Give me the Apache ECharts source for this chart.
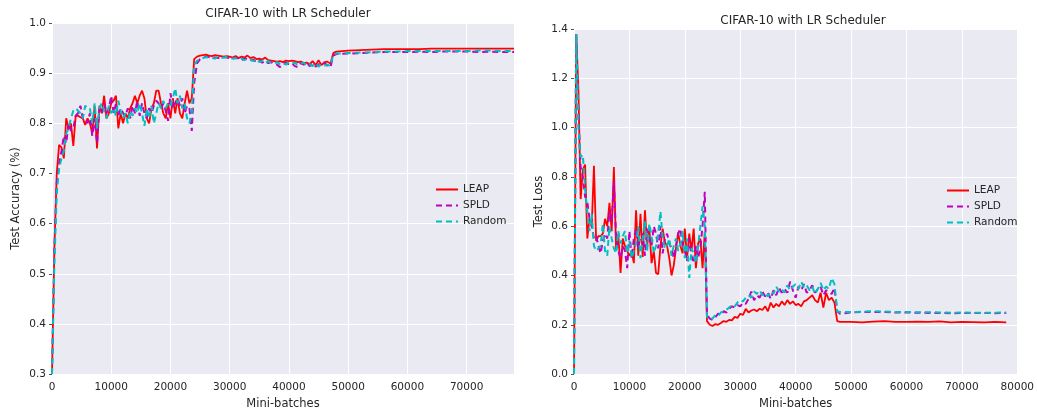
<!DOCTYPE html>
<html>
<head>
<meta charset="utf-8">
<script src="https://cdn.jsdelivr.net/npm/echarts@6/dist/echarts.min.js"></script>
<style>html,body{margin:0;padding:0;background:#fff}#c{width:1037px;height:415px}</style>
</head>
<body>
<div id="c"></div>
<script>
// Mini-batch positions (shared by every series)
const batches = [
  0,400,800,1200,1600,2000,2400,2800,3200,3600,4000,4400,4800,5200,5600,6000,6400,6800,7200,7600,
  8000,8400,8800,9200,9600,10000,10400,10800,11200,11600,12000,12400,12800,13200,13600,14000,14400,14800,15200,15600,
  16000,16400,16800,17200,17600,18000,18400,18800,19200,19600,20000,20400,20800,21200,21600,22000,22400,22800,23200,23600,
  24000,
  24500,25000,25500,26000,26500,27000,27500,28000,28500,29000,29500,30000,30500,31000,31500,32000,32500,33000,33500,34000,
  34500,35000,35500,36000,36500,37000,37500,38000,38500,39000,39500,40000,40500,41000,41500,42000,42500,43000,43500,44000,
  44500,45000,45500,46000,46500,47000,
  47500,48000,50000,52000,54000,56000,58000,60000,62000,64000,66000,68000,70000,72000,74000,76000,78000
];
const seriesNames = ['LEAP','SPLD','Random'];

// Test accuracy
const accLEAP = [
  0.30,0.55,0.70,0.757,0.752,0.73,0.81,0.79,0.80,0.755,
  0.815,0.815,0.812,0.81,0.797,0.81,0.80,0.78,0.835,0.75,
  0.835,0.82,0.855,0.81,0.82,0.84,0.845,0.855,0.79,0.82,
  0.80,0.82,0.81,0.83,0.84,0.855,0.84,0.855,0.865,0.85,
  0.81,0.80,0.83,0.84,0.865,0.865,0.84,0.82,0.81,0.84,
  0.81,0.85,0.82,0.85,0.82,0.81,0.84,0.865,0.84,0.85,
  0.928,
  0.933,0.935,0.936,0.937,0.935,0.934,0.936,0.935,0.934,0.933,
  0.934,0.933,0.931,0.934,0.930,0.933,0.931,0.935,0.930,0.932,
  0.928,0.929,0.927,0.931,0.926,0.925,0.924,0.923,0.924,0.922,
  0.925,0.924,0.925,0.924,0.922,0.923,0.920,0.921,0.918,0.924,
  0.916,0.926,0.916,0.922,0.923,0.919,
  0.940,0.943,0.945,0.946,0.947,0.948,0.948,0.948,0.948,0.949,0.949,0.949,0.949,0.949,0.949,0.949,0.949
];
const accSPLD = [
  0.30,0.55,0.68,0.72,0.745,0.775,0.76,0.80,0.785,0.79,
  0.815,0.82,0.835,0.81,0.81,0.80,0.82,0.775,0.81,0.76,
  0.83,0.82,0.84,0.82,0.83,0.855,0.82,0.84,0.815,0.83,
  0.82,0.815,0.83,0.81,0.835,0.82,0.845,0.815,0.84,0.82,
  0.81,0.83,0.82,0.835,0.845,0.84,0.83,0.84,0.825,0.805,
  0.86,0.83,0.84,0.85,0.835,0.85,0.82,0.835,0.83,0.785,
  0.88,
  0.920,0.928,0.931,0.933,0.932,0.930,0.931,0.930,0.931,0.932,
  0.931,0.930,0.928,0.931,0.929,0.925,0.930,0.928,0.925,0.927,
  0.922,0.926,0.921,0.924,0.920,0.922,0.918,0.917,0.912,0.919,
  0.921,0.918,0.920,0.914,0.912,0.920,0.917,0.921,0.914,0.919,
  0.913,0.918,0.916,0.920,0.915,0.912,
  0.935,0.938,0.939,0.940,0.941,0.942,0.942,0.942,0.943,0.942,0.943,0.943,0.943,0.942,0.943,0.942,0.942
];
const accRandom = [
  0.30,0.52,0.66,0.71,0.73,0.745,0.78,0.79,0.81,0.825,
  0.83,0.825,0.82,0.81,0.835,0.83,0.83,0.80,0.84,0.79,
  0.83,0.84,0.825,0.81,0.835,0.82,0.83,0.815,0.845,0.825,
  0.81,0.82,0.80,0.825,0.815,0.83,0.82,0.84,0.82,0.795,
  0.83,0.81,0.835,0.80,0.82,0.84,0.83,0.845,0.83,0.84,
  0.835,0.85,0.87,0.84,0.855,0.83,0.84,0.81,0.80,0.82,
  0.915,
  0.925,0.928,0.930,0.932,0.931,0.930,0.929,0.932,0.930,0.931,
  0.932,0.931,0.929,0.930,0.927,0.929,0.926,0.929,0.927,0.924,
  0.928,0.922,0.925,0.920,0.924,0.921,0.919,0.922,0.918,0.920,
  0.917,0.922,0.919,0.921,0.916,0.919,0.921,0.915,0.918,0.914,
  0.920,0.913,0.918,0.915,0.917,0.914,
  0.937,0.939,0.940,0.941,0.942,0.943,0.943,0.944,0.944,0.944,0.944,0.944,0.944,0.945,0.945,0.944,0.944
];

// Test loss
const lossLEAP = [
  0.00,1.38,1.15,0.71,0.83,0.85,0.55,0.63,0.60,0.845,
  0.54,0.56,0.56,0.57,0.63,0.60,0.695,0.58,0.84,0.50,
  0.57,0.41,0.55,0.52,0.50,0.48,0.50,0.45,0.665,0.48,
  0.65,0.475,0.665,0.52,0.59,0.45,0.50,0.41,0.405,0.52,
  0.59,0.535,0.52,0.47,0.40,0.44,0.51,0.575,0.52,0.49,
  0.59,0.47,0.57,0.50,0.59,0.43,0.53,0.55,0.43,0.575,
  0.215,
  0.200,0.195,0.203,0.200,0.207,0.215,0.212,0.220,0.218,0.232,
  0.228,0.245,0.240,0.265,0.250,0.258,0.262,0.255,0.265,0.260,
  0.275,0.255,0.290,0.270,0.285,0.275,0.295,0.280,0.300,0.285,
  0.295,0.280,0.285,0.275,0.295,0.300,0.310,0.320,0.300,0.290,
  0.330,0.270,0.330,0.300,0.310,0.290,
  0.215,0.212,0.212,0.210,0.213,0.215,0.212,0.212,0.213,0.212,0.214,0.210,0.212,0.211,0.210,0.212,0.210
];
const lossSPLD = [
  0.00,1.38,1.05,0.84,0.80,0.72,0.70,0.63,0.60,0.55,
  0.56,0.52,0.49,0.54,0.57,0.55,0.66,0.62,0.78,0.55,
  0.50,0.47,0.52,0.50,0.43,0.58,0.47,0.55,0.59,0.51,
  0.56,0.57,0.48,0.59,0.55,0.52,0.60,0.57,0.51,0.60,
  0.49,0.55,0.57,0.53,0.51,0.47,0.52,0.57,0.59,0.52,
  0.50,0.46,0.55,0.48,0.45,0.52,0.47,0.51,0.60,0.74,
  0.24,
  0.225,0.220,0.230,0.245,0.240,0.255,0.250,0.265,0.275,0.270,
  0.280,0.275,0.290,0.285,0.305,0.335,0.300,0.320,0.310,0.335,
  0.315,0.330,0.305,0.340,0.320,0.350,0.330,0.345,0.330,0.375,
  0.340,0.310,0.355,0.340,0.365,0.330,0.340,0.360,0.330,0.345,
  0.355,0.320,0.340,0.335,0.325,0.350,
  0.255,0.245,0.250,0.252,0.252,0.252,0.250,0.250,0.249,0.248,0.248,0.247,0.248,0.248,0.248,0.247,0.248
];
const lossRandom = [
  0.00,1.38,1.00,0.88,0.89,0.75,0.66,0.58,0.65,0.52,
  0.50,0.51,0.52,0.61,0.50,0.48,0.60,0.55,0.51,0.49,
  0.58,0.53,0.56,0.58,0.49,0.54,0.47,0.50,0.53,0.60,
  0.47,0.55,0.62,0.50,0.61,0.56,0.49,0.52,0.57,0.66,
  0.55,0.51,0.52,0.55,0.48,0.52,0.55,0.50,0.53,0.58,
  0.47,0.55,0.39,0.51,0.49,0.45,0.52,0.60,0.68,0.60,
  0.23,
  0.230,0.225,0.240,0.235,0.250,0.255,0.260,0.270,0.280,0.275,
  0.290,0.300,0.295,0.310,0.320,0.310,0.335,0.325,0.340,0.320,
  0.330,0.315,0.335,0.325,0.355,0.335,0.345,0.330,0.360,0.340,
  0.355,0.365,0.345,0.375,0.350,0.360,0.340,0.355,0.325,0.345,
  0.370,0.340,0.355,0.345,0.390,0.365,
  0.255,0.252,0.252,0.253,0.255,0.254,0.252,0.252,0.251,0.251,0.250,0.249,0.250,0.249,0.249,0.249,0.250
];

const colors = {LEAP:'#ff0000', SPLD:'#bf00bf', Random:'#00bfbf'};
const textColor = '#262626';
const font = 'DejaVu Sans';

function pairs(vals){ return batches.map((b,i)=>[b, vals[i]]); }
function mkSeries(name, vals, idx){
  const dashed = name !== 'LEAP';
  return {
    type:'line', name, xAxisIndex:idx, yAxisIndex:idx,
    data:pairs(vals), showSymbol:false, symbol:'none', animation:false,
    lineStyle:{color:colors[name], width: dashed?2:1.8, type: dashed?[6,4]:'solid'},
    itemStyle:{color:colors[name]}
  };
}
function xAxis(idx, max){
  return {
    type:'value', gridIndex:idx, min:0, max:max, interval:10000,
    name:'Mini-batches', nameLocation:'middle', nameGap:20,
    nameTextStyle:{color:textColor, fontSize:11.5, fontFamily:font},
    axisLine:{show:false}, axisTick:{show:false},
    axisLabel:{color:textColor, fontSize:10.5, fontFamily:font, margin:8,
               showMaxLabel: max%10000===0, formatter:v=>String(v)},
    splitLine:{show:true, lineStyle:{color:'#ffffff', width:1}}
  };
}
function yAxis(idx, min, max, interval, name, gap){
  return {
    type:'value', gridIndex:idx, min, max, interval,
    name, nameLocation:'middle', nameGap:gap,
    nameTextStyle:{color:textColor, fontSize:11.5, fontFamily:font},
    axisLine:{show:false},
    axisTick:{show:true, length:3, lineStyle:{color:'#555'}},
    axisLabel:{color:textColor, fontSize:10.5, fontFamily:font, margin:6, formatter:v=>v.toFixed(1)},
    splitLine:{show:true, lineStyle:{color:'#ffffff', width:1}}
  };
}
const legendBase = {
  data:seriesNames, orient:'vertical', itemWidth:22, itemHeight:10, itemGap:5,
  itemStyle:{opacity:0, borderWidth:0},
  textStyle:{color:textColor, fontSize:10.5, fontFamily:font}
};

const chart = echarts.init(document.getElementById('c'), null, {renderer:'canvas'});
chart.setOption({
  backgroundColor:'#ffffff',
  animation:false,
  title:[
    {text:'CIFAR-10 with LR Scheduler', left:283, top:3, textAlign:'center',
     textStyle:{color:textColor, fontSize:12, fontWeight:'normal', fontFamily:font}},
    {text:'CIFAR-10 with LR Scheduler', left:798, top:10, textAlign:'center',
     textStyle:{color:textColor, fontSize:12, fontWeight:'normal', fontFamily:font}}
  ],
  grid:[
    {left:52, right:523, top:23, bottom:34, show:true, backgroundColor:'#eaeaf2', borderWidth:0},
    {left:574, right:15, top:29, bottom:39, show:true, backgroundColor:'#eaeaf2', borderWidth:0}
  ],
  xAxis:[xAxis(0, 78000), xAxis(1, 80000)],
  yAxis:[yAxis(0, 0.3, 1.0, 0.1, 'Test Accuracy (%)', 30), yAxis(1, 0, 1.4, 0.2, 'Test Loss', 29)],
  legend:[
    Object.assign({}, legendBase, {left:430, top:179}),
    Object.assign({}, legendBase, {left:941, top:180})
  ],
  series:[
    mkSeries('LEAP', accLEAP, 0), mkSeries('SPLD', accSPLD, 0), mkSeries('Random', accRandom, 0),
    mkSeries('LEAP', lossLEAP, 1), mkSeries('SPLD', lossSPLD, 1), mkSeries('Random', lossRandom, 1)
  ]
});
[accLEAP,accSPLD,accRandom,lossLEAP,lossSPLD,lossRandom].forEach((a,i)=>{
  if(a.length!==batches.length) console.error('length mismatch', i, a.length, batches.length);
});
</script>
</body>
</html>
